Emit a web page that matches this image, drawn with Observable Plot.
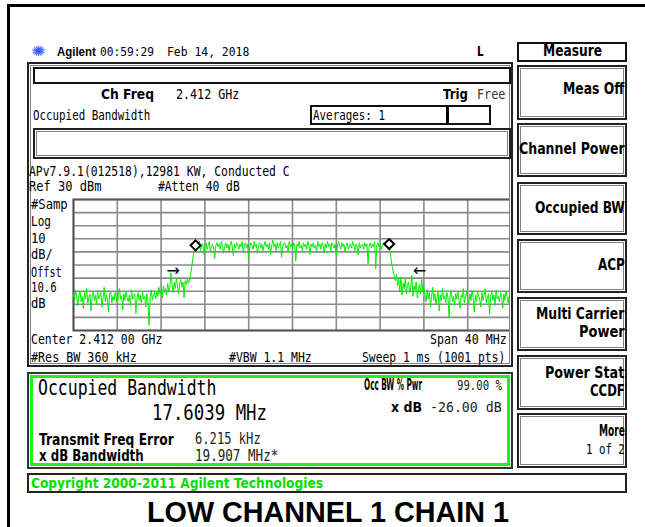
<!DOCTYPE html>
<html><head><meta charset="utf-8">
<script src="https://cdn.jsdelivr.net/npm/d3@7"></script>
<script src="https://cdn.jsdelivr.net/npm/@observablehq/plot@0.6"></script>
<style>
html,body{margin:0;padding:0;background:#fff;}
#root{position:relative;width:645px;height:527px;overflow:hidden;background:#fff;}
.b{position:absolute;box-sizing:border-box;}
.t{position:absolute;white-space:nowrap;transform-origin:0 50%;color:#000;}
#plotwrap{position:absolute;left:73px;top:199px;width:438px;height:131px;}
#plotwrap svg{overflow:visible;}
</style></head><body><div id="root"><div id="plotwrap"></div></div>
<script>
// ---- data ----
const centerMHz = 2412;
const spanMHz = 40;
const refLevelDbm = 30;
const dbPerDiv = 10;
const sweepStepMHz = 0.1; // displayed sample spacing used here
const traceDbm = [
-42,-47,-39,-45,-51,-43,-40,-48,-44,-53,-41,-46,-38,-49,-45,-42,-55,-44,-40,-47,
-43,-50,-39,-46,-44,-41,-52,-45,-37,-48,-43,-46,-56,-42,-40,-49,-44,-47,-41,-45,
-50,-43,-38,-46,-44,-54,-42,-47,-40,-45,-48,-43,-51,-39,-46,-44,-42,-57,-45,-41,
-47,-43,-49,-40,-46,-44,-52,-42,-48,-66,-45,-39,-47,-43,-41,-46,
-40,-44,-37,-42,-39,-45,-36,-41,-38,-43,-34,-40,-37,-26,-35,-41,-33,-38,-30,-36,
-42,-34,-31,-37,-33,-45,-32,-35,-30,-34,
-32,-27,-21,-15,-10,-6,-4,
-3,-7,-2,-9,-5,-4,-12,-6,-3,-8,-5,-2,-10,-6,-4,-7,-15,-5,-3,-6,
-4,-8,-2,-5,-11,-6,-3,-7,-4,-9,-5,-2,-6,-13,-4,-7,-3,-5,-8,-4,
-6,-2,-10,-5,-3,-7,-4,-16,-6,-3,-5,-8,-2,-6,-4,-11,-5,-3,-7,-4,
-9,-5,-2,-6,-4,-8,-3,-12,-5,-1,-6,-4,-9,-3,-7,-5,-2,-14,-6,-4,
-3,-7,-5,-10,-2,-6,-4,-8,-3,-5,-17,-4,-6,-2,-7,-5,-9,-3,-6,-4,
-8,-2,-5,-12,-4,-6,-3,-7,-5,-10,-2,-6,-4,-8,-3,-5,-11,-4,-7,-2,
-6,-4,-9,-3,-5,-7,-4,-13,-6,-2,-5,-8,-3,-6,-4,-10,-5,-3,-8,-6,
-4,-7,-2,-5,-9,-4,-6,-12,-3,-7,-5,-4,-8,-3,-6,
-4,-19,-5,-3,-7,-4,-6,-2,-23,-5,-3,-6,-4,-8,-5,-3,-4,-3,
-4,-3,-5,-9,-15,-21,-25,-29,-32,
-27,-36,-31,-40,-29,-43,-34,-38,-30,-42,-35,-33,-41,-37,-28,-44,-36,-39,-33,-45,
-38,-35,-42,-31,-40,-37,
-43,-48,-39,-46,-41,-52,-44,-37,-47,-42,-50,-45,-40,-55,-43,-47,-38,-46,-44,-49,
-41,-45,-60,-43,-39,-48,-44,-51,-42,-46,-40,-47,-53,-43,-45,-38,-49,-44,-41,-46,
-50,-42,-47,-39,-45,-56,-43,-48,-40,-44,-46,-52,-41,-47,-43,-38,-49,-45,-42,-58,
-44,-40,-47,-43,-51,-39,-46,-44,-48,-41,-45,-53,-42,-47,-40,-44,-49,-43,-38,-41
];
const obwMarkerMHz = [2403.15, 2420.83];
const obwMarkerDbm = [-5, -4];
const xdbArrowMHz = [2401.1, 2423.6];
const xdbArrowDbm = [-24.7, -24.7];
const xdbArrowGlyph = ["→", "←"];
const gridFreqMHz = [2392,2396,2400,2404,2408,2412,2416,2420,2424,2428,2432];
const gridLevelDbm = [30,20,10,0,-10,-20,-30,-40,-50,-60,-70];

// ---- build tables ----
const f0 = centerMHz - spanMHz / 2;
const trace = traceDbm.map((v, i) => ({f: f0 + i * sweepStepMHz, dBm: v}));
const obw = obwMarkerMHz.map((f, i) => ({f, dBm: obwMarkerDbm[i]}));
const arrows = xdbArrowMHz.map((f, i) => ({f, dBm: xdbArrowDbm[i], g: xdbArrowGlyph[i]}));

// ---- page frame ----
const MONO = "'DejaVu Sans Mono', monospace";
const SANS = "'DejaVu Sans', sans-serif";
const ARIAL = "'Liberation Sans', Arial, sans-serif";
const root = document.getElementById("root");
function box(x0, y0, x1, y1, style) {
  const d = document.createElement("div");
  d.className = "b";
  Object.assign(d.style, {left: x0 + "px", top: y0 + "px", width: (x1 - x0) + "px", height: (y1 - y0) + "px"}, style);
  root.appendChild(d);
  return d;
}
function txt(s, x0, x1, cy, F, o = {}) {
  const e = document.createElement("div");
  e.className = "t";
  e.textContent = s;
  const L = o.lh || F;
  e.style.fontFamily = o.fam || MONO;
  e.style.fontWeight = o.bold ? "bold" : "normal";
  e.style.fontSize = F + "px";
  e.style.lineHeight = L + "px";
  e.style.left = x0 + "px";
  e.style.top = (cy - L / 2) + "px";
  if (o.color) e.style.color = o.color;
  root.appendChild(e);
  const w = e.getBoundingClientRect().width;
  e.style.transform = `scaleX(${(x1 - x0) / w})`;
  return e;
}
const dbl = {border: "2px solid #222", boxShadow: "inset 0 0 0 1px #fff, inset 0 0 0 2px #808080"};

box(7, 4, 645, 7, {background: "#000"});
box(7, 4, 9.5, 527, {background: "#000"});
box(517, 41.7, 627.3, 61.7, {border: "2px solid #111"});
[[65,120],[123,177.3],[181.7,235],[239.3,292.7],[296.7,350.7],[355,410],[413.3,468.3]]
  .forEach(([a, b]) => box(517, a, 627.3, b, dbl));
box(27, 62, 513.3, 367, dbl);
box(33, 66.7, 510.7, 84, {border: "2px solid #111"});
box(310, 105, 491, 125, {border: "2px solid #111"});
box(446, 105, 449, 125, {background: "#000"});
box(33, 128.3, 510.7, 159, dbl);
box(27, 372, 513.3, 469.3, {border: "2px solid #333", boxShadow: "inset 0 0 0 1px #fff, inset 0 0 0 4px #22ee22"});
box(27, 473.3, 627.3, 493.3, {border: "2px solid #222"});

// header
txt("✺", 31, 46, 51, 14, {fam: SANS, color: "#3a5cff"});
txt("Agilent", 57.3, 96, 51, 13, {bold: true, fam: ARIAL});
txt("00:59:29", 100, 154, 51, 13);
txt("Feb 14, 2018", 166.7, 249, 51, 13);
txt("L", 477, 483.5, 51, 14, {bold: true, fam: SANS});
txt("Measure", 542.7, 601.7, 51.7, 15, {bold: true, fam: SANS});
// softkeys
const SK = {bold: true, fam: SANS};
const R = 624.3;
txt("Meas Off", 563, R, 90, 15.5, SK);
txt("Channel Power", 518.5, R, 149.3, 15.5, SK);
txt("Occupied BW", 534.5, R, 208.3, 15.5, SK);
txt("ACP", 597.5, R, 266, 15.5, SK);
txt("Multi Carrier", 536, R, 315, 15.5, SK);
txt("Power", 578.5, R, 332.7, 15.5, SK);
txt("Power Stat", 545, R, 373.3, 15.5, SK);
txt("CCDF", 589.5, R, 391.7, 15.5, SK);
txt("More", 598.5, R, 431.7, 15.5, SK);
txt("1 of 2", 585.5, R, 449.3, 13.5);
// main panel text
txt("Ch Freq", 101, 154, 94.3, 13.5, {bold: true, fam: SANS});
txt("2.412 GHz", 175.7, 239, 94.3, 13.5);
txt("Trig", 443.3, 468.3, 95, 13.5, {bold: true, fam: SANS});
txt("Free", 476.7, 505, 95, 13.5, {color: "#333"});
txt("Occupied Bandwidth", 33.3, 150.7, 116, 13.5);
txt("Averages: 1", 313, 385, 116, 13.5);
txt("APv7.9.1(012518),12981 KW, Conducted C", 29.3, 290, 171.7, 13.5);
txt("Ref 30 dBm", 29.3, 101.7, 187, 13.5);
txt("#Atten 40 dB", 158.3, 240, 187, 13.5);
txt("#Samp", 31, 67.7, 204.3, 13.5);
txt("Log", 31, 51, 221.7, 13.5);
txt("10", 31, 45.7, 238.3, 13.5);
txt("dB/", 31, 52.7, 255, 13.5);
txt("Offst", 31, 61.7, 272.3, 13.5);
txt("10.6", 31, 56.7, 287.3, 13.5);
txt("dB", 31, 45.7, 303.3, 13.5);
txt("Center 2.412 00 GHz", 31, 162.3, 340, 13.5);
txt("Span 40 MHz", 430, 506.7, 340, 13.5);
txt("#Res BW 360 kHz", 31, 136.7, 357.7, 13.5);
txt("#VBW 1.1 MHz", 229, 311.7, 357.7, 13.5);
txt("Sweep 1 ms (1001 pts)", 361.7, 505, 357.7, 13.5);
// results box
txt("Occupied Bandwidth", 38.3, 216.7, 388.3, 22);
txt("17.6039 MHz", 151.7, 266.7, 413.3, 22);
txt("Transmit Freq Error", 39.3, 174, 440, 15, {bold: true, fam: SANS});
txt("6.215 kHz", 195, 260.7, 439, 15, {color: "#222"});
txt("x dB Bandwidth", 39.3, 144, 456.7, 15, {bold: true, fam: SANS});
txt("19.907 MHz*", 195, 278.3, 456.7, 15, {color: "#222"});
txt("Occ BW % Pwr", 364, 422, 385, 15, {bold: true, fam: SANS});
txt("99.00 %", 456.7, 501.7, 385, 14, {color: "#222"});
txt("x dB", 390.7, 421.7, 406.7, 14, {bold: true, fam: SANS});
txt("-26.00 dB", 430, 501.7, 406.7, 14, {color: "#222"});
txt("Copyright 2000-2011 Agilent Technologies", 31, 323, 483.3, 14.5, {bold: true, fam: SANS, color: "#00e000"});
txt("LOW CHANNEL 1 CHAIN 1", 147, 509, 512, 29, {bold: true, fam: ARIAL, lh: 23});

// ---- the spectrum plot ----
const chart = Plot.plot({
  width: 438, height: 131, margin: 0,
  style: {background: "transparent", fontFamily: SANS, overflow: "visible"},
  x: {domain: [f0, f0 + spanMHz], axis: null},
  y: {domain: [refLevelDbm - 10 * dbPerDiv, refLevelDbm], axis: null},
  marks: [
    Plot.gridX(gridFreqMHz, {stroke: "#8a8a8a", strokeOpacity: 1, strokeWidth: 1.6}),
    Plot.gridY(gridLevelDbm, {stroke: "#8a8a8a", strokeOpacity: 1, strokeWidth: 1.6}),
    Plot.frame({stroke: "#555", strokeWidth: 2}),
    Plot.line(trace, {x: "f", y: "dBm", stroke: "#00f000", strokeWidth: 1}),
    Plot.dot(obw, {x: "f", y: "dBm", symbol: "diamond2", r: 4.5, stroke: "#000", strokeWidth: 2, fill: "#fff"}),
    Plot.text(arrows, {x: "f", y: "dBm", text: "g", fontSize: 16, fill: "#000"})
  ]
});
document.getElementById("plotwrap").appendChild(chart);
</script></body></html>
